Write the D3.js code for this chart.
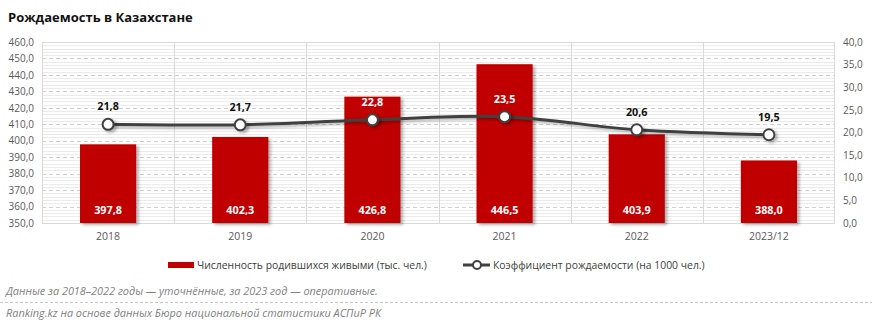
<!DOCTYPE html>
<html>
<head>
<meta charset="utf-8">
<script src="https://cdn.jsdelivr.net/npm/d3@7"></script>
<style>
  html, body { margin: 0; padding: 0; background: #fff; }
  svg { display: block; font-family: "Open Sans", "Noto Sans", sans-serif; }
</style>
</head>
<body>
<svg id="chart" width="872" height="325"></svg>
<script>
// Births in Kazakhstan: live births (thousand) and crude birth rate (per 1000)
const years = ["2018", "2019", "2020", "2021", "2022", "2023/12"];
const births = [397.8, 402.3, 426.8, 446.5, 403.9, 388.0];
const birthRate = [21.8, 21.7, 22.8, 23.5, 20.6, 19.5];
const leftTicks = [350, 360, 370, 380, 390, 400, 410, 420, 430, 440, 450, 460];
const rightTicks = [0, 5, 10, 15, 20, 25, 30, 35, 40];

const title = "Рождаемость в Казахстане";
const legendBars = "Численность родившихся живыми (тыс. чел.)";
const legendLine = "Коэффициент рождаемости (на 1000 чел.)";
const noteText = "Данные за 2018–2022 годы — уточнённые, за 2023 год — оперативные.";
const sourceText = "Ranking.kz на основе данных Бюро национальной статистики АСПиР РК";

const fmt = v => v.toFixed(1).replace(".", ",");

const svg = d3.select("#chart");
const plot = { left: 42, right: 835, top: 42, bottom: 223 };

const x = d3.scaleBand().domain(years).range([plot.left, plot.right]).paddingInner(0).paddingOuter(0);
const yL = d3.scaleLinear().domain([350, 460]).range([plot.bottom, plot.top]);
const yR = d3.scaleLinear().domain([0, 40]).range([plot.bottom, plot.top]);

// shadow filter for bars and line
const defs = svg.append("defs");
const sh = defs.append("filter").attr("id", "shadow").attr("x", "-20%").attr("y", "-20%").attr("width", "150%").attr("height", "150%");
sh.append("feDropShadow").attr("dx", 2.5).attr("dy", 2).attr("stdDeviation", 1.8)
  .attr("flood-color", "#000").attr("flood-opacity", 0.3);

// title
svg.append("text").attr("x", 8).attr("y", 22)
  .attr("font-size", 13).attr("font-weight", 700).attr("fill", "#111")
  .text(title);

// minor gridlines every 2 units of the left scale
const minor = d3.range(350, 460.01, 2).filter(v => v % 10 !== 0);
svg.append("g").selectAll("line").data(minor).join("line")
  .attr("x1", plot.left).attr("x2", plot.right)
  .attr("y1", d => Math.round(yL(d)) + 0.5).attr("y2", d => Math.round(yL(d)) + 0.5)
  .attr("stroke", "#ebebeb").attr("stroke-width", 1);

// major dashed gridlines
svg.append("g").selectAll("line").data(leftTicks.slice(1)).join("line")
  .attr("x1", plot.left).attr("x2", plot.right)
  .attr("y1", d => Math.round(yL(d)) + 0.5).attr("y2", d => Math.round(yL(d)) + 0.5)
  .attr("stroke", "#d0d0d0").attr("stroke-width", 1).attr("stroke-dasharray", "4,3");

// vertical category separators
svg.append("g").selectAll("line").data(years.slice(1)).join("line")
  .attr("x1", d => Math.round(x(d)) + 0.5).attr("x2", d => Math.round(x(d)) + 0.5)
  .attr("y1", plot.top).attr("y2", plot.bottom)
  .attr("stroke", "#d9d9d9").attr("stroke-width", 1);

// plot frame
svg.append("rect").attr("x", plot.left + 0.5).attr("y", plot.top + 0.5)
  .attr("width", plot.right - plot.left - 1).attr("height", plot.bottom - plot.top)
  .attr("fill", "none").attr("stroke", "#d9d9d9");

// left axis
const axL = svg.append("g").attr("transform", `translate(${plot.left},0)`)
  .call(d3.axisLeft(yL).tickValues(leftTicks).tickFormat(fmt).tickSize(0).tickPadding(8));
axL.select(".domain").remove();
axL.selectAll("text").attr("font-size", 10).attr("fill", "#595959").attr("font-family", "Open Sans, sans-serif");

// right axis
const axR = svg.append("g").attr("transform", `translate(${plot.right},0)`)
  .call(d3.axisRight(yR).tickValues(rightTicks).tickFormat(fmt).tickSize(0).tickPadding(8));
axR.select(".domain").remove();
axR.selectAll("text").attr("font-size", 10).attr("fill", "#595959").attr("font-family", "Open Sans, sans-serif");

// category axis
const axB = svg.append("g").attr("transform", `translate(0,${plot.bottom})`)
  .call(d3.axisBottom(x).tickSize(0).tickPadding(10));
axB.select(".domain").remove();
axB.selectAll("text").attr("font-size", 10.5).attr("fill", "#595959").attr("font-family", "Open Sans, sans-serif");

// bars
const barW = x.bandwidth() * 0.425;
svg.append("g").attr("filter", "url(#shadow)").selectAll("rect").data(years).join("rect")
  .attr("x", (d) => x(d) + (x.bandwidth() - barW) / 2)
  .attr("y", (d, i) => yL(births[i]))
  .attr("width", barW)
  .attr("height", (d, i) => plot.bottom - yL(births[i]))
  .attr("fill", "#c00000");

// bar value labels
svg.append("g").selectAll("text").data(years).join("text")
  .attr("x", d => x(d) + x.bandwidth() / 2)
  .attr("y", plot.bottom - 9)
  .attr("text-anchor", "middle").attr("font-size", 10.8).attr("font-weight", 700)
  .attr("fill", "#fff")
  .text((d, i) => fmt(births[i]));

// birth rate line
const pts = years.map((d, i) => [x(d) + x.bandwidth() / 2, yR(birthRate[i])]);
svg.append("path").datum(pts)
  .attr("d", d3.line().curve(d3.curveCatmullRom.alpha(0.5)))
  .attr("fill", "none").attr("stroke", "#404040").attr("stroke-width", 3)
  .attr("filter", "url(#shadow)");

svg.append("g").attr("filter", "url(#shadow)").selectAll("circle").data(pts).join("circle")
  .attr("cx", d => d[0]).attr("cy", d => d[1]).attr("r", 5.5)
  .attr("fill", "#fff").attr("stroke", "#404040").attr("stroke-width", 2);

// rate labels (white where they sit on a bar)
svg.append("g").selectAll("text").data(years).join("text")
  .attr("x", d => x(d) + x.bandwidth() / 2)
  .attr("y", (d, i) => yR(birthRate[i]) - 14)
  .attr("text-anchor", "middle").attr("font-size", 10.8).attr("font-weight", 700)
  .attr("fill", (d, i) => (yR(birthRate[i]) - 20 > yL(births[i]) ? "#fff" : "#111"))
  .text((d, i) => fmt(birthRate[i]));

// legend
const lg = svg.append("g");
lg.append("rect").attr("x", 168).attr("y", 262).attr("width", 26).attr("height", 6).attr("fill", "#c00000");
lg.append("text").attr("x", 197).attr("y", 269).attr("font-size", 10.4).attr("fill", "#404040").text(legendBars);
lg.append("line").attr("x1", 463).attr("x2", 490).attr("y1", 265).attr("y2", 265)
  .attr("stroke", "#404040").attr("stroke-width", 3);
lg.append("circle").attr("cx", 477).attr("cy", 265).attr("r", 4)
  .attr("fill", "#fff").attr("stroke", "#404040").attr("stroke-width", 2);
lg.append("text").attr("x", 493).attr("y", 269).attr("font-size", 10.4).attr("fill", "#404040").text(legendLine);

// footnotes
svg.append("text").attr("x", 6).attr("y", 295).attr("font-size", 10.9).attr("font-style", "italic")
  .attr("fill", "#7f7f7f").text(noteText);
svg.append("line").attr("x1", 0).attr("x2", 872).attr("y1", 302.5).attr("y2", 302.5)
  .attr("stroke", "#c8c8c8").attr("stroke-dasharray", "3,2");
svg.append("text").attr("x", 6).attr("y", 317).attr("font-size", 10.9).attr("font-style", "italic")
  .attr("fill", "#7f7f7f").text(sourceText);
</script>
</body>
</html>
